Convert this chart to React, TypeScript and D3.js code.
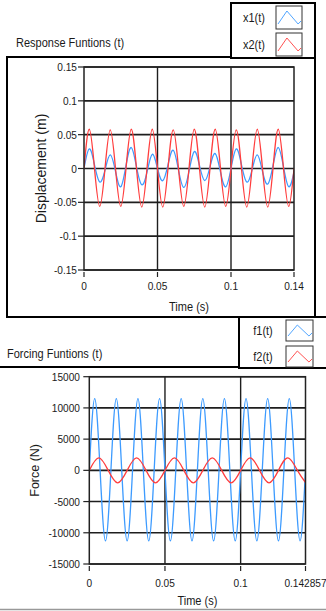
import React from "react";
import * as d3 from "d3";

// ---- data ----
const T_END = 0.142857;
// 70 Hz signals sampled every quarter period (1/280 s)
const X1 = [0, 0.029, 0.0054, -0.020, -0.0024, 0.020, -0.0043, -0.027, 0.0043, 0.031, 0.0024,
  -0.024, -0.0054, 0.021, 0, -0.018, 0.0054, 0.027, -0.0024, -0.028, -0.0043,
  0.025, 0.0043, -0.018, 0.0024, 0.022, -0.0054, -0.027, 0, 0.029, 0.0054,
  -0.020, -0.0024, 0.020, -0.0043, -0.023, 0.0043, 0.031, 0.0024, -0.027, -0.0054];
const X2 = [0, 0.058, 0, -0.056, 0, 0.057, 0, -0.056, 0, 0.058, 0,
  -0.057, 0, 0.058, 0, -0.057, 0, 0.057, 0, -0.056, 0,
  0.058, 0, -0.057, 0, 0.058, 0, -0.056, 0, 0.057, 0,
  -0.057, 0, 0.058, 0, -0.057, 0, 0.058, 0, -0.056, 0];
const F1 = [0, 11500, 0, -11300, 0, 11500, 0, -11300, 0, 11500, 0,
  -11300, 0, 11500, 0, -11300, 0, 11500, 0, -11300, 0,
  11500, 0, -11300, 0, 11500, 0, -11300, 0, 11500, 0,
  -11300, 0, 11500, 0, -11300, 0, 11500, 0, -11300, 0];
// 40 Hz signal sampled every quarter period (1/160 s), last sample at T_END
const F2 = [0, 2000, 0, -2000, 0, 2000, 0, -2000, 0, 2000, 0, -2000,
  0, 2000, 0, -2000, 0, 2000, 0, -2000, 0, 2000, 0, -1950];

const T70 = X1.map((_, i) => i / 280);
const T40 = F2.map((_, i) => (i < F2.length - 1 ? i / 160 : T_END));

const TOP_Y_TICKS = [0.15, 0.1, 0.05, 0, -0.05, -0.1, -0.15];
const TOP_Y_LABELS = ["0.15", "0.1", "0.05", "0", "-0.05", "-0.1", "-0.15"];
const X_TICKS = [0, 0.05, 0.1, T_END];
const TOP_X_LABELS = ["0", "0.05", "0.1", "0.14"];
const BOT_X_LABELS = ["0", "0.05", "0.1", "0.142857"];
const BOT_Y_TICKS = [15000, 10000, 5000, 0, -5000, -10000, -15000];
const BOT_Y_LABELS = ["15000", "10000", "5000", "0", "-5000", "-10000", "-15000"];

const BLUE = "#3d9bff";
const RED = "#ff3d3d";
const FONT = "'Liberation Sans', Arial, sans-serif";
const TXT = "#1a1a1a";

function HText({ x, y, size = 11.5, anchor = "start", sx = 0.88, children }: any) {
  return (
    <text transform={`translate(${x},${y}) scale(${sx},1)`} fontSize={size}
      fontFamily={FONT} fill={TXT} textAnchor={anchor}>{children}</text>
  );
}

function Plot({ id, xs, ys, yTicks, yLabels, xLabels, series, yTitle, yTitleSize, yTitleX, xTitleY, labelRight, xLabelY }: any) {
  const [x0, x1] = xs.range();
  const [y1, y0] = ys.range();
  const line = (t: number[], v: number[]) =>
    d3.line<number>().x((_, i) => xs(t[i])).y((d) => ys(d)).curve(d3.curveNatural)(v) || "";
  return (
    <g>
      <defs>
        <clipPath id={id}><rect x={x0} y={y0} width={x1 - x0} height={y1 - y0} /></clipPath>
      </defs>
      <rect x={x0} y={y0} width={x1 - x0} height={y1 - y0} fill="#fff" />
      {yTicks.map((t: number, i: number) => (
        <line key={"h" + i} x1={x0} x2={x1} y1={ys(t)} y2={ys(t)} stroke="#1e1e1e" strokeWidth={1.6} />
      ))}
      {X_TICKS.slice(1, 3).map((t: number, i: number) => (
        <line key={"v" + i} x1={xs(t)} x2={xs(t)} y1={y0} y2={y1} stroke="#1e1e1e" strokeWidth={1.4} />
      ))}
      <g clipPath={`url(#${id})`}>
        {series.map((s: any, i: number) => (
          <path key={i} d={line(s.t, s.v)} fill="none" stroke={s.color} strokeWidth={1.3} />
        ))}
      </g>
      <rect x={x0} y={y0} width={x1 - x0} height={y1 - y0} fill="none" stroke="#222" strokeWidth={1.5} />
      {yTicks.map((t: number, i: number) => (
        <g key={"yt" + i}>
          <line x1={x0 - 6} x2={x0} y1={ys(t)} y2={ys(t)} stroke="#222" strokeWidth={1.2} />
          <HText x={labelRight} y={ys(t) + 4} anchor="end">{yLabels[i]}</HText>
        </g>
      ))}
      {X_TICKS.map((t: number, i: number) => (
        <g key={"xt" + i}>
          <line x1={xs(t)} x2={xs(t)} y1={y1 + 2} y2={y1 + 7} stroke="#222" strokeWidth={1.2} />
          <HText x={xs(t)} y={xLabelY} anchor="middle">{xLabels[i]}</HText>
        </g>
      ))}
      <HText x={(x0 + x1) / 2} y={xTitleY} size={12.5} anchor="middle">Time (s)</HText>
      <text transform={`translate(${yTitleX},${(y0 + y1) / 2}) rotate(-90)`} fontSize={yTitleSize}
        fontFamily={FONT} fill={TXT} textAnchor="middle">{yTitle}</text>
    </g>
  );
}

function Swatch({ x, y, w, h, color }: any) {
  return (
    <g>
      <rect x={x} y={y} width={w} height={h} fill="#fff" stroke="#333" strokeWidth={1} />
      <polyline points={`${x + 2},${y + h - 5} ${x + w * 0.42},${y + 5} ${x + w * 0.85},${y + h - 5} ${x + w - 1},${y + h - 8}`}
        fill="none" stroke={color} strokeWidth={0.9} />
    </g>
  );
}

export default function App() {
  const xsT = d3.scaleLinear().domain([0, T_END]).range([84, 294]);
  const ysT = d3.scaleLinear().domain([-0.15, 0.15]).range([270, 67]);
  const xsB = d3.scaleLinear().domain([0, T_END]).range([89.3, 305.5]);
  const ysB = d3.scaleLinear().domain([-15000, 15000]).range([564, 376.7]);
  return (
    <svg width={326} height={611} style={{ position: "absolute", left: 0, top: 0, background: "#fff" }}>
      {/* top section */}
      <rect x={7} y={57} width={308} height={260} fill="#fff" stroke="#000" strokeWidth={2} />
      <HText x={16} y={47} size={12.5}>Response Funtions (t)</HText>
      <Plot id="cT" xs={xsT} ys={ysT} yTicks={TOP_Y_TICKS} yLabels={TOP_Y_LABELS} xLabels={TOP_X_LABELS}
        series={[{ t: T70, v: X1, color: BLUE }, { t: T70, v: X2, color: RED }]}
        yTitle="Displacement (m)" yTitleSize={14} yTitleX={46} xTitleY={311} labelRight={77} xLabelY={290} />
      <rect x={231} y={3} width={84} height={55} fill="#fff" stroke="#000" strokeWidth={2} />
      <HText x={254} y={22} size={12.5} anchor="middle">x1(t)</HText>
      <HText x={254} y={49} size={12.5} anchor="middle">x2(t)</HText>
      <Swatch x={276} y={6} w={26} h={23} color={BLUE} />
      <Swatch x={276} y={33} w={26} h={23} color={RED} />

      {/* bottom section */}
      <line x1={0} x2={326} y1={367} y2={367} stroke="#000" strokeWidth={2} />
      <line x1={0} x2={326} y1={609.5} y2={609.5} stroke="#999" strokeWidth={1.5} />
      <HText x={7} y={358} size={12.5}>Forcing Funtions (t)</HText>
      <Plot id="cB" xs={xsB} ys={ysB} yTicks={BOT_Y_TICKS} yLabels={BOT_Y_LABELS} xLabels={BOT_X_LABELS}
        series={[{ t: T70, v: F1, color: BLUE }, { t: T40, v: F2, color: RED }]}
        yTitle="Force (N)" yTitleSize={12.5} yTitleX={39} xTitleY={605} labelRight={80} xLabelY={587} />
      <rect x={239} y={317} width={92} height={51} fill="#fff" stroke="#000" strokeWidth={2} />
      <line x1={7} x2={326} y1={317} y2={317} stroke="#000" strokeWidth={2} />
      <HText x={263} y={335} size={12.5} anchor="middle">f1(t)</HText>
      <HText x={263} y={361} size={12.5} anchor="middle">f2(t)</HText>
      <Swatch x={286} y={320} w={27} h={21} color={BLUE} />
      <Swatch x={286} y={346} w={27} h={21} color={RED} />
    </svg>
  );
}
